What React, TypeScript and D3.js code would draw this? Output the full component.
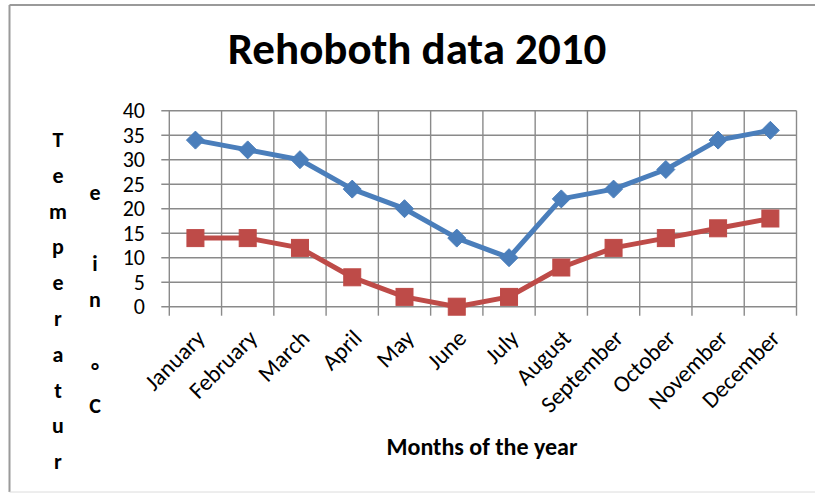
import React from "react";
import * as d3 from "d3";

const months = ["January","February","March","April","May","June","July","August","September","October","November","December"];
const highTemps = [34, 32, 30, 24, 20, 14, 10, 22, 24, 28, 34, 36];
const lowTemps = [14, 14, 12, 6, 2, 0, 2, 8, 12, 14, 16, 18];
const yTicks = [0, 5, 10, 15, 20, 25, 30, 35, 40];
const titleText = "Rehoboth data 2010";
const xTitle = "Months of the year";
const yTitleCol1 = ["T","e","m","p","e","r","a","t","u","r"];
const yTitleCol2 = ["e"," ","i","n"," ","°","C"];

const W = 815, H = 493;
const plot = { left: 169.3, right: 796.5, top: 110.7, bottom: 306.7 };
const FONT = "Carlito, Calibri, Lato, 'Open Sans', sans-serif";
const BLUE = "#4A7EBB";
const RED = "#BE4B48";
const GRID = "#8a8a8a";

export default function App() {
  const x = d3.scaleBand<string>().domain(months).range([plot.left, plot.right]).padding(0);
  const y = d3.scaleLinear().domain([0, 40]).range([plot.bottom, plot.top]);
  const cx = (m: string) => (x(m) as number) + x.bandwidth() / 2;
  const line = d3.line<number>().x((_, i) => cx(months[i])).y((v) => y(v));
  const bounds = d3.range(months.length + 1).map((i) => plot.left + i * x.bandwidth());
  const sq = 17, dm = 9;

  return (
    <svg width={W} height={H} style={{ position: "absolute", left: 0, top: 0, background: "#fff" }} fontFamily={FONT}>
      <rect x={0} y={0} width={W} height={H} fill="#fff" />
      {/* frame */}
      <line x1={9.5} y1={5} x2={W} y2={5} stroke="#9a9a9a" strokeWidth={2} />
      <line x1={9.5} y1={5} x2={9.5} y2={492} stroke="#9a9a9a" strokeWidth={2} />
      <line x1={9.5} y1={492} x2={W} y2={492} stroke="#dcdcdc" strokeWidth={1} />

      <text x={417} y={64} textAnchor="middle" fontWeight="bold" fontSize={45} fill="#000">{titleText}</text>

      {/* horizontal gridlines */}
      {yTicks.map((t) => (
        <line key={"h" + t} x1={plot.left - 8} x2={plot.right} y1={y(t)} y2={y(t)} stroke={GRID} strokeWidth={1.4} />
      ))}
      {/* vertical gridlines */}
      {bounds.map((b, i) => (
        <line key={"v" + i} x1={b} x2={b} y1={plot.top} y2={plot.bottom + 9} stroke={GRID} strokeWidth={1.4} />
      ))}

      {/* y tick labels */}
      {yTicks.map((t) => (
        <text key={"yt" + t} x={145} y={y(t) + 7.5} textAnchor="end" fontSize={22} fill="#000">{t}</text>
      ))}

      {/* x tick labels */}
      {months.map((m) => (
        <text key={"xl" + m} transform={`translate(${cx(m) - 1},${plot.bottom + 21}) rotate(-45)`} textAnchor="end" dy="0.72em" fontSize={23.5} fill="#000">{m}</text>
      ))}

      {/* y title columns */}
      {yTitleCol1.map((c, i) => (
        <text key={"c1" + i} x={58} y={147 + i * 35.8} textAnchor="middle" fontWeight="bold" fontSize={22} fill="#000">{c}</text>
      ))}
      {yTitleCol2.map((c, i) => (
        <text key={"c2" + i} x={95} y={200 + i * 35.5} textAnchor="middle" fontWeight="bold" fontSize={22} fill="#000">{c}</text>
      ))}

      <text x={482} y={455} textAnchor="middle" fontWeight="bold" fontSize={24} fill="#000">{xTitle}</text>

      {/* series lines */}
      <path d={line(highTemps) || ""} fill="none" stroke={BLUE} strokeWidth={5} strokeLinejoin="round" />
      <path d={line(lowTemps) || ""} fill="none" stroke={RED} strokeWidth={5} strokeLinejoin="round" />

      {highTemps.map((v, i) => {
        const px = cx(months[i]), py = y(v);
        return <path key={"d" + i} d={`M${px},${py - dm}L${px + dm},${py}L${px},${py + dm}L${px - dm},${py}Z`} fill={BLUE} stroke={BLUE} strokeWidth={1} />;
      })}
      {lowTemps.map((v, i) => {
        const px = cx(months[i]), py = y(v);
        return <rect key={"s" + i} x={px - sq / 2} y={py - sq / 2} width={sq} height={sq} fill={RED} stroke={RED} strokeWidth={1} />;
      })}
    </svg>
  );
}
